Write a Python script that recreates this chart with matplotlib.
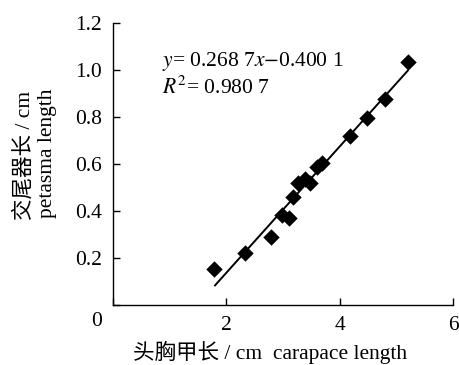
import numpy as np
import matplotlib
matplotlib.use('Agg')
import matplotlib.pyplot as plt

# carapace length (cm) vs petasma length (cm)
carapace = [1.79, 2.32, 2.79, 2.99, 3.10, 3.17, 3.27, 3.39, 3.48, 3.59, 3.68, 4.18, 4.48, 4.80, 5.20]
petasma = [0.152, 0.223, 0.291, 0.383, 0.369, 0.458, 0.520, 0.536, 0.520, 0.589, 0.603, 0.719, 0.794, 0.878, 1.035]

slope = 0.2687
intercept = -0.4001
fit_x = [1.8, 5.2]

x_ticks = [0, 2, 4, 6]
x_ticklabels = ['', '2', '4', '6']
y_ticks = [0, 0.2, 0.4, 0.6, 0.8, 1.0, 1.2]
y_ticklabels = ['', '0.2', '0.4', '0.6', '0.8', '1.0', '1.2']

plt.rcParams['font.family'] = ['Liberation Serif', 'Noto Sans CJK SC']
plt.rcParams['mathtext.fontset'] = 'stix'

fig = plt.figure(figsize=(4.6, 3.65), dpi=100)
ax = fig.add_axes([0.2457, 0.1644, 0.7393, 0.7726])

ax.scatter(carapace, petasma, marker='D', s=70, color='black', zorder=3, linewidths=0)
fx = np.array(fit_x)
ax.plot(fx, slope * fx + intercept, color='black', lw=1.4)

ax.set_xlim(0, 6)
ax.set_ylim(0, 1.2)
ax.set_xticks(x_ticks)
ax.set_xticklabels(x_ticklabels)
ax.set_yticks(y_ticks)
ax.set_yticklabels(y_ticklabels)
ax.tick_params(direction='in', length=5, width=1, labelsize=15.5, pad=8)
ax.spines['top'].set_visible(False)
ax.spines['right'].set_visible(False)
for s in ['left', 'bottom']:
    ax.spines[s].set_linewidth(1)

# origin label
fig.text(97 / 460, 1 - 322 / 365, '0', fontsize=15.5, ha='center', va='center')

ax.text(0.144, 0.862, r'$y$= 0.268 7$x$$-$0.400 1', transform=ax.transAxes,
        fontsize=15.5, va='center', ha='left')
ax.text(0.144, 0.770, r'$R^{2}$= 0.980 7', transform=ax.transAxes,
        fontsize=15.5, va='center', ha='left')

fig.text(270 / 460, 1 - 352 / 365, '头胸甲长 / cm  carapace length', fontsize=15.5,
         ha='center', va='center')
fig.text(24 / 460, 1 - 155 / 365, '交尾器长 / cm', fontsize=15.5, rotation=90,
         ha='center', va='center')
fig.text(48 / 460, 1 - 153 / 365, 'petasma length', fontsize=15.5, rotation=90,
         ha='center', va='center')

fig.savefig('out.png', dpi=100)
